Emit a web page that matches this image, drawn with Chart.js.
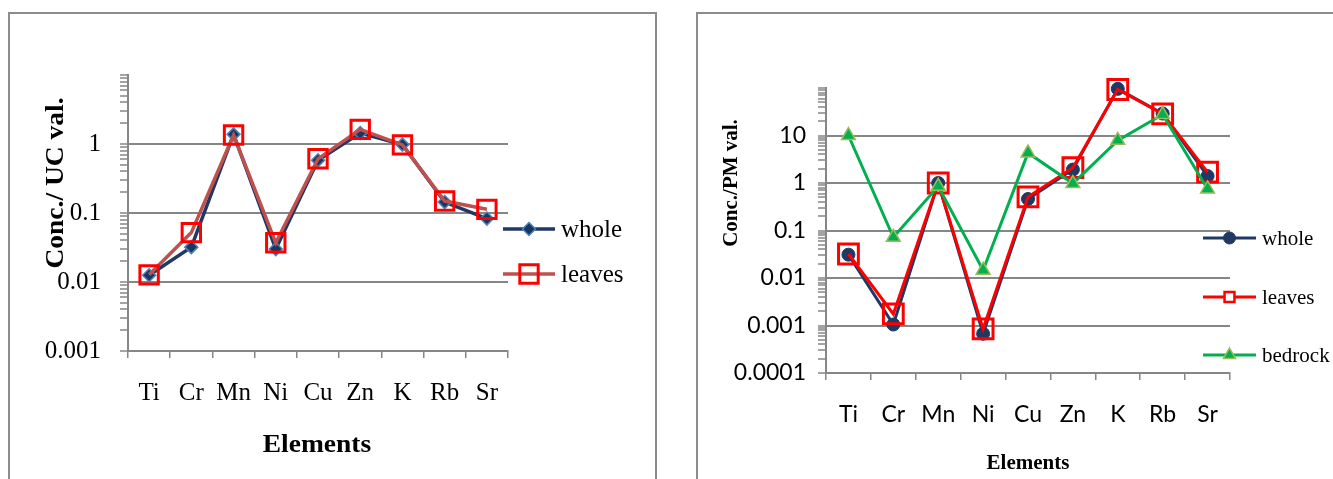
<!DOCTYPE html>
<html>
<head>
<meta charset="utf-8">
<script src="https://cdn.jsdelivr.net/npm/chart.js@4.4.1/dist/chart.umd.min.js"></script>
<style>
  body { margin: 0; background: #fff; width: 1333px; height: 479px; overflow: hidden; position: relative; }
  .box { position: absolute; border: 2px solid #8c8c8c; box-sizing: border-box; }
  canvas { position: absolute; }
</style>
</head>
<body>
<div class="box" style="left:8px;top:12px;width:649px;height:490px"></div>
<div class="box" style="left:696px;top:12px;width:660px;height:490px"></div>
<canvas id="uc" width="647" height="466" style="left:9px;top:13px"></canvas>
<canvas id="pm" width="636" height="466" style="left:697px;top:13px"></canvas>
<script>
// categories
const elements = ['Ti', 'Cr', 'Mn', 'Ni', 'Cu', 'Zn', 'K', 'Rb', 'Sr'];

// left chart: concentration / upper crust
const ucWhole  = [0.0125, 0.032, 1.38, 0.030, 0.58, 1.44, 0.98, 0.144, 0.083];
const ucLeaves = [0.0127, 0.052, 1.35, 0.037, 0.61, 1.63, 0.97, 0.149, 0.113];

// right chart: concentration / primitive mantle
const pmWhole   = [0.031, 0.00105, 1.0, 0.00067, 0.46, 1.92, 96, 29, 1.4];
const pmLeaves  = [0.032, 0.00175, 1.0, 0.00085, 0.51, 2.1, 93, 28.6, 1.7];
const pmBedrock = [10, 0.072, 0.85, 0.0146, 4.3, 0.975, 7.9, 27.6, 0.75];

// axis ranges
const ucRange = [0.001, 10];
const pmRange = [0.0001, 100];

function isDecade(v) {
  const l = Math.log10(v);
  return Math.abs(l - Math.round(l)) < 1e-6;
}

// 1..9 x 10^n ticks, like Excel's minor ticks
function logTicks(min, max) {
  const out = [];
  for (let e = Math.round(Math.log10(min)); e < Math.round(Math.log10(max)); e++) {
    for (let s = 1; s < 10; s++) out.push(parseFloat((s * Math.pow(10, e)).toPrecision(6)));
  }
  out.push(max);
  return out;
}

function yScale(range, font, width, pad) {
  const [min, max] = range;
  return {
    type: 'logarithmic',
    min: min,
    max: max,
    afterBuildTicks: s => { s.ticks = logTicks(min, max).map(v => ({ value: v })); },
    afterFit: s => { s.width = width; },
    ticks: {
      autoSkip: false,
      padding: pad,
      color: '#000',
      font: font,
      callback: v => (isDecade(v) && v < max) ? String(v) : ''
    },
    grid: {
      color: c => (c.tick && isDecade(c.tick.value) && c.tick.value < max && c.tick.value > min) ? '#868686' : 'rgba(0,0,0,0)',
      tickColor: '#868686',
      tickLength: 8,
      lineWidth: 2,
      tickWidth: 1.5
    },
    border: { color: '#868686', width: 2 }
  };
}

function xScale(font, pad) {
  return {
    offset: true,
    afterFit: s => { s.height = 80; },
    grid: { offset: true, drawOnChartArea: false, tickLength: 7, color: '#868686', lineWidth: 1.5 },
    border: { color: '#868686', width: 2 },
    ticks: { color: '#000', font: font, padding: pad, autoSkip: false, maxRotation: 0 }
  };
}

function marker(ctx, st, x, y) {
  ctx.fillStyle = st.bg;
  ctx.strokeStyle = st.border;
  ctx.lineWidth = st.bw;
  Chart.helpers.drawPoint(ctx, { pointStyle: st.style, radius: st.r, rotation: 0, borderWidth: st.bw }, x, y);
}

// axis titles and legend
const decor = {
  id: 'decor',
  afterDraw(chart, args, o) {
    const ctx = chart.ctx;
    ctx.save();
    ctx.fillStyle = '#000';
    ctx.textAlign = 'center';
    ctx.textBaseline = 'middle';
    ctx.font = o.titleFont;
    ctx.save();
    ctx.translate(o.yTitlePos[0], o.yTitlePos[1]);
    ctx.rotate(-Math.PI / 2);
    ctx.scale(o.stretch, 1);
    ctx.fillText(o.yTitle, 0, 0);
    ctx.restore();
    ctx.save();
    ctx.translate(o.xTitlePos[0], o.xTitlePos[1]);
    ctx.scale(o.stretch, 1);
    ctx.fillText(o.xTitle, 0, 0);
    ctx.restore();

    chart.data.datasets.forEach((ds, i) => {
      const y = o.legendY[i];
      ctx.strokeStyle = ds.borderColor;
      ctx.lineWidth = ds.borderWidth;
      ctx.beginPath();
      ctx.moveTo(o.legendX[0], y);
      ctx.lineTo(o.legendX[1], y);
      ctx.stroke();
      marker(ctx, o.legendMarks[i], (o.legendX[0] + o.legendX[1]) / 2, y);
      ctx.fillStyle = '#000';
      ctx.font = o.legendFont;
      ctx.textAlign = 'left';
      ctx.fillText(ds.label, o.legendX[1] + 6, y + 1);
    });
    ctx.restore();
  }
};

const serif = { family: 'Liberation Serif', size: 25 };

new Chart(document.getElementById('uc'), {
  type: 'line',
  data: {
    labels: elements,
    datasets: [{
      label: 'whole',
      data: ucWhole,
      borderColor: '#1F3864',
      borderWidth: 3.5,
      pointStyle: 'rectRot',
      pointRadius: 6.5,
      pointBackgroundColor: '#17375E',
      pointBorderColor: '#4F81BD',
      pointBorderWidth: 1.5,
      order: 2
    }, {
      label: 'leaves',
      data: ucLeaves,
      borderColor: '#C0504D',
      borderWidth: 3.5,
      pointStyle: 'rect',
      pointRadius: 13,
      pointBackgroundColor: 'rgba(0,0,0,0)',
      pointBorderColor: '#FF0000',
      pointBorderWidth: 3,
      order: 1
    }]
  },
  options: {
    responsive: false,
    animation: false,
    clip: false,
    layout: { padding: { left: 0, top: 62, right: 148, bottom: 48 } },
    scales: { x: xScale(serif, 20), y: yScale(ucRange, serif, 119, 19) },
    plugins: {
      legend: { display: false },
      tooltip: { enabled: false },
      decor: {
        titleFont: 'bold 25px "Liberation Serif"',
        stretch: 1.1,
        yTitle: 'Conc./ UC val.',
        yTitlePos: [48, 170],
        xTitle: 'Elements',
        xTitlePos: [308, 433],
        legendFont: '25px "Liberation Serif"',
        legendX: [494, 546],
        legendY: [216, 261],
        legendMarks: [
          { style: 'rectRot', r: 6.5, bg: '#17375E', border: '#4F81BD', bw: 1.5 },
          { style: 'rect', r: 13, bg: 'rgba(0,0,0,0)', border: '#FF0000', bw: 3 }
        ]
      }
    }
  },
  plugins: [decor]
});

const sans = { family: 'Lato', size: 23 };

new Chart(document.getElementById('pm'), {
  type: 'line',
  data: {
    labels: elements,
    datasets: [{
      label: 'whole',
      data: pmWhole,
      borderColor: '#1F3864',
      borderWidth: 3,
      pointStyle: 'circle',
      pointRadius: 6.5,
      pointBackgroundColor: '#1F3864',
      pointBorderColor: '#1F3864',
      pointBorderWidth: 1,
      order: 3
    }, {
      label: 'leaves',
      data: pmLeaves,
      borderColor: '#FF0000',
      borderWidth: 3,
      pointStyle: 'rect',
      pointRadius: 14,
      pointBackgroundColor: 'rgba(0,0,0,0)',
      pointBorderColor: '#FF0000',
      pointBorderWidth: 3,
      order: 2
    }, {
      label: 'bedrock',
      data: pmBedrock,
      borderColor: '#00B050',
      borderWidth: 3,
      pointStyle: 'triangle',
      pointRadius: 8,
      pointBackgroundColor: '#00B050',
      pointBorderColor: '#9BBB59',
      pointBorderWidth: 1.5,
      order: 1
    }]
  },
  options: {
    responsive: false,
    animation: false,
    clip: false,
    layout: { padding: { left: 0, top: 75, right: 103, bottom: 26 } },
    scales: { x: xScale(sans, 21), y: yScale(pmRange, sans, 129, 12) },
    plugins: {
      legend: { display: false },
      tooltip: { enabled: false },
      decor: {
        titleFont: 'bold 20px "Liberation Serif"',
        stretch: 1.05,
        yTitle: 'Conc./PM val.',
        yTitlePos: [35, 170],
        xTitle: 'Elements',
        xTitlePos: [331, 451],
        legendFont: '21px "Liberation Serif"',
        legendX: [506, 559],
        legendY: [225, 284, 342],
        legendMarks: [
          { style: 'circle', r: 6, bg: '#1F3864', border: '#1F3864', bw: 1 },
          { style: 'rect', r: 7, bg: '#fff', border: '#FF0000', bw: 2.5 },
          { style: 'triangle', r: 7, bg: '#00B050', border: '#9BBB59', bw: 1.5 }
        ]
      }
    }
  },
  plugins: [decor]
});
</script>
</body>
</html>
